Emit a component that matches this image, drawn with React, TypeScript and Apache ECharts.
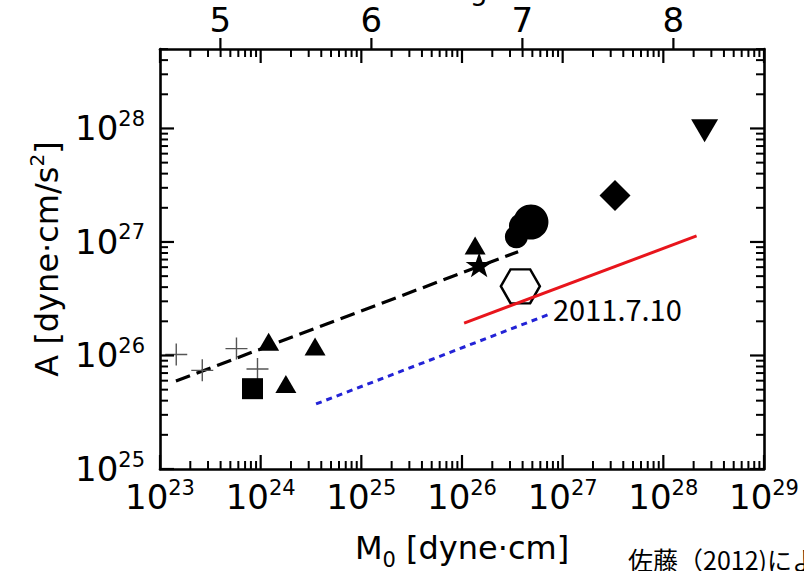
import React, { useEffect, useRef } from "react";
import * as echarts from "echarts";

// ---------------- data ----------------
const xDecadeExps = [23, 24, 25, 26, 27, 28, 29];
const yDecadeExps = [25, 26, 27, 28];
const minorMultipliers = [2, 3, 4, 5, 6, 7, 8, 9];
const mwTickLabels = [5, 6, 7, 8];

const crossPoints = [
  [1.45e23, 1.02e26],
  [2.63e23, 7.4e25],
  [5.75e23, 1.15e26],
  [9.3e23, 7.6e25],
];
const squarePoints = [[8.3e23, 5.1e25]];
const trianglePoints = [
  [1.2e24, 1.32e26],
  [3.47e24, 1.2e26],
  [1.78e24, 5.6e25],
  [1.35e26, 9.3e26],
];
const starPoints = [[1.48e26, 6.3e26]];
const circlePoints = [
  [3.47e26, 1.11e27],
  [3.94e26, 1.38e27],
  [4.84e26, 1.5e27],
];
const circleSizes = [23, 26, 35];
const hexagonPoints = [[3.8e26, 4.07e26]];
const diamondPoints = [[3.31e27, 2.57e27]];
const invTrianglePoints = [[2.57e28, 9.55e27]];

const dashedBlackLine = [
  [1.44e23, 5.96e25],
  [3.61e26, 8.22e26],
];
const redLine = [
  [1.05e26, 1.93e26],
  [2.14e28, 1.13e27],
];
const blueDottedLine = [
  [3.55e24, 3.74e25],
  [7.08e26, 2.28e26],
];

const annotationText = "2011.7.10";
const xTitle = "{m|M}{sub|0}{m| [dyne·cm]}";
const yTitle = "{m|A [dyne·cm/s}{sup|2}{m|]}";
const topTitle = "Moment magnitude Mw";
const sourceText = "佐藤（2012)による";

// ---------------- derived ----------------
const X_MIN = 1e23;
const X_MAX = 1e29;
const Y_MIN = 1e25;
const Y_MAX = Math.pow(10, 28.7);

const xMajorValues = xDecadeExps.map((e) => Math.pow(10, e));
const yMajorValues = yDecadeExps.map((e) => Math.pow(10, e));
const xMinorValues = xDecadeExps
  .slice(0, -1)
  .flatMap((e) => minorMultipliers.map((m) => m * Math.pow(10, e)));
const yMinorValues = yDecadeExps
  .flatMap((e) => minorMultipliers.map((m) => m * Math.pow(10, e)))
  .filter((v) => v < Y_MAX);
const mwValues = mwTickLabels.map((mw) => Math.pow(10, 1.5 * mw + 16.1));

const FONT = "DejaVu Sans";
const BLACK = "#000";

const powRich = {
  b: { fontSize: 34, lineHeight: 40, fontFamily: FONT, color: BLACK },
  s: { fontSize: 21, lineHeight: 22, fontFamily: FONT, color: BLACK, verticalAlign: "top" },
};
const powLabel = (v: number) => `{b|10}{s|${Math.round(Math.log10(v))}}`;

const MAJOR_LEN = 14;
const MINOR_LEN = 8;
const MW_LEN = 11;
const MAJOR_W = 2.2;
const MINOR_W = 2;

function frameAxis(position: string, min: number, max: number, showLabel: boolean, extra: any = {}) {
  return {
    type: "log",
    logBase: 10,
    gridIndex: 0,
    position,
    min,
    max,
    axisLine: { show: true, onZero: false, lineStyle: { color: BLACK, width: 2.6 } },
    axisTick: { show: false },
    axisLabel: {
      show: showLabel,
      formatter: powLabel,
      rich: powRich,
      showMinLabel: true,
      ...(extra.axisLabel || {}),
    },
    splitLine: { show: false },
    minorTick: { show: false },
    ...(extra.rest || {}),
  };
}

export default function App() {
  const ref = useRef<HTMLDivElement>(null);

  useEffect(() => {
    if (!ref.current) return;
    const chart = echarts.init(ref.current, undefined, { renderer: "svg" });

    // each tick: [x, y, dx, dy, width], drawn from the axis point through the log scales
    const tickItems: number[][] = [];
    xMinorValues.forEach((v) => {
      tickItems.push([v, Y_MIN, 0, -MINOR_LEN, MINOR_W]);
      tickItems.push([v, Y_MAX, 0, MINOR_LEN, MINOR_W]);
    });
    xMajorValues.forEach((v) => {
      tickItems.push([v, Y_MIN, 0, -MAJOR_LEN, MAJOR_W]);
      tickItems.push([v, Y_MAX, 0, MAJOR_LEN, MAJOR_W]);
    });
    yMinorValues.forEach((v) => {
      tickItems.push([X_MIN, v, MINOR_LEN, 0, MINOR_W]);
      tickItems.push([X_MAX, v, -MINOR_LEN, 0, MINOR_W]);
    });
    yMajorValues.forEach((v) => {
      tickItems.push([X_MIN, v, MAJOR_LEN, 0, MAJOR_W]);
      tickItems.push([X_MAX, v, -MAJOR_LEN, 0, MAJOR_W]);
    });
    mwValues.forEach((v) => tickItems.push([v, Y_MAX, 0, -MW_LEN, MAJOR_W]));

    const option: any = {
      animation: false,
      backgroundColor: "#fff",
      grid: { left: 160, right: 40, top: 49, bottom: 102, containLabel: false, outerBoundsMode: "none" },
      xAxis: [
        frameAxis("bottom", X_MIN, X_MAX, true, {
          axisLabel: { margin: 8, showMaxLabel: true },
          rest: {
            name: xTitle,
            nameLocation: "middle",
            nameGap: 57,
            nameTextStyle: {
              rich: {
                m: { fontSize: 32, lineHeight: 44, fontFamily: FONT, color: BLACK },
                sub: { fontSize: 21, lineHeight: 20, fontFamily: FONT, color: BLACK, verticalAlign: "bottom" },
              },
            },
          },
        }),
        frameAxis("top", X_MIN, X_MAX, false),
        {
          type: "log",
          logBase: 10,
          gridIndex: 0,
          position: "top",
          min: X_MIN,
          max: X_MAX,
          axisLine: { show: false, onZero: false },
          axisTick: { show: false },
          axisLabel: {
            show: true,
            customValues: mwValues,
            margin: 9,
            formatter: (v: number) => String(Math.round((Math.log10(v) - 16.1) / 1.5)),
            fontSize: 34,
            lineHeight: 40,
            fontFamily: FONT,
            color: BLACK,
          },
          splitLine: { show: false },
        },
      ],
      yAxis: [
        frameAxis("left", Y_MIN, Y_MAX, true, {
          axisLabel: { margin: 15, showMaxLabel: false },
          rest: {
            name: yTitle,
            nameLocation: "middle",
            nameGap: 93,
            nameRotate: 90,
            nameTextStyle: {
              rich: {
                m: { fontSize: 32, lineHeight: 40, fontFamily: FONT, color: BLACK },
                sup: { fontSize: 20, lineHeight: 24, fontFamily: FONT, color: BLACK, verticalAlign: "top" },
              },
            },
          },
        }),
        frameAxis("right", Y_MIN, Y_MAX, false),
      ],
      series: [
        {
          type: "custom",
          name: "ticks",
          coordinateSystem: "cartesian2d",
          xAxisIndex: 0,
          yAxisIndex: 0,
          silent: true,
          clip: false,
          z: 5,
          encode: { x: 0, y: 1 },
          data: tickItems,
          renderItem: (_p: any, api: any) => {
            const p = api.coord([api.value(0), api.value(1)]);
            const dx = api.value(2);
            const dy = api.value(3);
            return {
              type: "line",
              shape: { x1: p[0], y1: p[1], x2: p[0] + dx, y2: p[1] + dy },
              style: { stroke: BLACK, lineWidth: api.value(4) },
            };
          },
        },
        {
          type: "line",
          name: "blue",
          data: blueDottedLine,
          symbol: "none",
          lineStyle: { color: "#2323d6", width: 3, type: [6, 5] },
          z: 2,
        },
        {
          type: "line",
          name: "black dashed",
          data: dashedBlackLine,
          symbol: "none",
          lineStyle: { color: BLACK, width: 3.2, type: [15, 7] },
          z: 2,
        },
        {
          type: "scatter",
          name: "cross",
          data: crossPoints,
          symbol: "path://M0,50L100,50M50,0L50,100",
          symbolSize: [22, 22],
          itemStyle: { color: "rgba(0,0,0,0)", borderColor: "#555", borderWidth: 1.4, opacity: 1 },
          z: 3,
        },
        {
          type: "scatter",
          name: "square",
          data: squarePoints,
          symbol: "rect",
          symbolSize: 21,
          itemStyle: { color: BLACK, opacity: 1 },
          z: 3,
        },
        {
          type: "scatter",
          name: "triangle",
          data: trianglePoints,
          symbol: "triangle",
          symbolSize: [21, 18],
          itemStyle: { color: BLACK, opacity: 1 },
          z: 3,
        },
        {
          type: "scatter",
          name: "star",
          data: starPoints,
          symbol:
            "path://M50,0L61.8,35.1L98.1,35.1L68.7,56.7L79.4,90.9L50,70L20.6,90.9L31.3,56.7L1.9,35.1L38.2,35.1Z",
          symbolSize: [27, 25],
          itemStyle: { color: BLACK, opacity: 1 },
          z: 4,
        },
        {
          type: "scatter",
          name: "circle",
          data: circlePoints,
          symbol: "circle",
          symbolSize: (_v: any, p: any) => circleSizes[p.dataIndex],
          itemStyle: { color: BLACK, opacity: 1 },
          z: 3,
        },
        {
          type: "scatter",
          name: "hexagon",
          data: hexagonPoints,
          symbol: "path://M0,43.3L25,0L75,0L100,43.3L75,86.6L25,86.6Z",
          symbolSize: [39, 34],
          itemStyle: { color: "#fff", borderColor: BLACK, borderWidth: 2.4, opacity: 1 },
          z: 3,
        },
        {
          type: "line",
          name: "red",
          data: redLine,
          symbol: "none",
          lineStyle: { color: "#e8151c", width: 3 },
          z: 4,
        },
        {
          type: "scatter",
          name: "diamond",
          data: diamondPoints,
          symbol: "diamond",
          symbolSize: [31, 31],
          itemStyle: { color: BLACK, opacity: 1 },
          z: 3,
        },
        {
          type: "scatter",
          name: "inverted triangle",
          data: invTrianglePoints,
          symbol: "triangle",
          symbolRotate: 180,
          symbolSize: [27, 23],
          itemStyle: { color: BLACK, opacity: 1 },
          z: 3,
        },
      ],
      graphic: [
        {
          type: "text",
          left: 553,
          top: 293,
          z: 10,
          style: { text: annotationText, fontSize: 29, fontFamily: "Noto Sans CJK JP", fill: BLACK },
        },
        {
          type: "text",
          left: 302,
          top: -24,
          z: 10,
          style: { text: topTitle, fontSize: 28, fontFamily: FONT, fill: BLACK },
        },
        {
          type: "text",
          left: 628,
          top: 546,
          z: 10,
          style: { text: sourceText, fontSize: 25, fontFamily: "Noto Sans CJK JP", fill: BLACK },
        },
      ],
    };

    chart.setOption(option);
    return () => chart.dispose();
  }, []);

  return (
    <div
      ref={ref}
      style={{ position: "fixed", left: 0, top: 0, width: 804, height: 571, background: "#fff" }}
    />
  );
}
